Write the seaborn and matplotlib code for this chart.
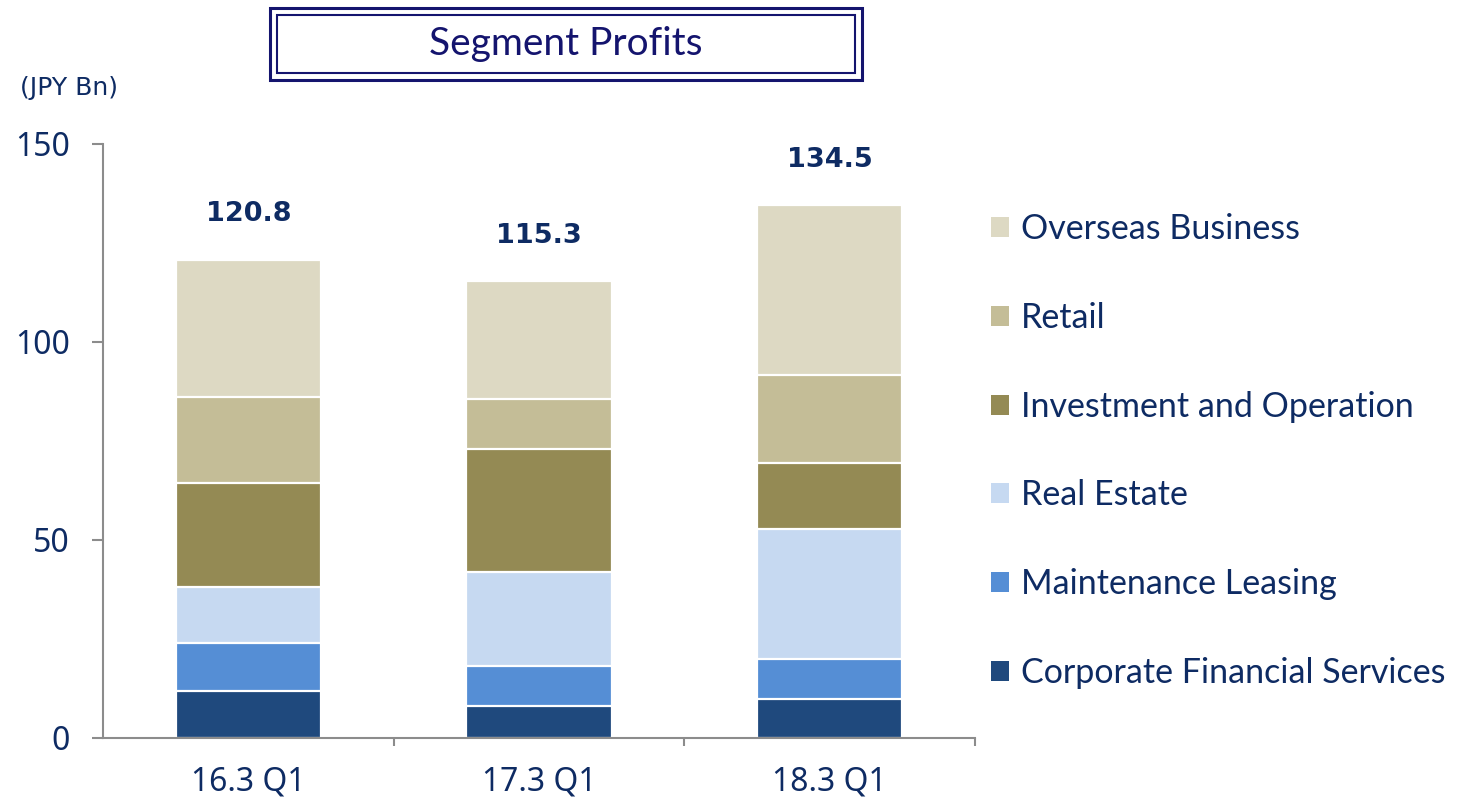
import matplotlib
matplotlib.use('Agg')
import matplotlib.pyplot as plt
import seaborn as sns
import pandas as pd
import numpy as np
from matplotlib.patches import Rectangle
from matplotlib.ticker import FixedLocator

# ---------------- data ----------------
periods = ['16.3 Q1', '17.3 Q1', '18.3 Q1']
segments = ['Corporate Financial Services', 'Maintenance Leasing', 'Real Estate',
            'Investment and Operation', 'Retail', 'Overseas Business']
corporate_financial = [11.8, 8.0, 9.9]
maintenance_leasing = [12.2, 10.2, 10.1]
real_estate = [14.1, 23.6, 32.9]
investment_operation = [26.3, 31.2, 16.6]
retail = [21.7, 12.6, 22.2]
overseas = [34.7, 29.7, 42.8]
totals = [120.8, 115.3, 134.5]
y_ticks = [0, 50, 100, 150]
title_text = 'Segment Profits'
unit_text = '(JPY Bn)'

palette = {
    'Corporate Financial Services': '#1F497D',
    'Maintenance Leasing': '#558ED5',
    'Real Estate': '#C6D9F1',
    'Investment and Operation': '#948A54',
    'Retail': '#C4BD97',
    'Overseas Business': '#DDD9C3',
}

# cumulative table for stacked drawing
series = [corporate_financial, maintenance_leasing, real_estate,
          investment_operation, retail, overseas]
cum = np.cumsum(np.array(series), axis=0)
rows = []
for si, seg in enumerate(segments):
    for pi, per in enumerate(periods):
        rows.append({'period': per, 'segment': seg, 'cum': cum[si, pi]})
df = pd.DataFrame(rows)

# ---------------- style ----------------
sns.set_theme(style='white')
plt.rcParams['font.family'] = ['DejaVu Sans']
navy = '#0E2B63'
gray = '#8C8C8C'

W, H = 1462, 798
fig = plt.figure(figsize=(W / 100, H / 100), dpi=100)
ax = fig.add_axes([103 / W, 1 - 738 / H, (975 - 103) / W, (738 - 144) / H])

sns.barplot(data=df, x='period', y='cum', hue='segment', hue_order=segments[::-1],
            order=periods, palette=palette, dodge=False, width=0.5, saturation=1,
            edgecolor='white', linewidth=1.6, errorbar=None, ax=ax)

ax.set_xlim(-0.5, len(periods) - 0.5)
ax.set_ylim(0, 150)
ax.set_yticks(y_ticks)
ax.set_xlabel('')
ax.set_ylabel('')

for s in ['top', 'right']:
    ax.spines[s].set_visible(False)
for s in ['left', 'bottom']:
    ax.spines[s].set_color(gray)
    ax.spines[s].set_linewidth(1.5)

ax.tick_params(axis='y', direction='out', length=8, width=1.5, color=gray,
               labelcolor=navy, pad=16, left=True)
ax.tick_params(axis='x', which='major', length=0, labelcolor=navy, pad=20)
ax.xaxis.set_minor_locator(FixedLocator([0.5, 1.5, 2.5]))
ax.tick_params(axis='x', which='minor', direction='out', length=6, width=1.5,
               color=gray, bottom=True)
for lab in ax.get_yticklabels() + ax.get_xticklabels():
    lab.set_family('Noto Sans')
    lab.set_fontsize(23)

# totals above bars
for i, t in enumerate(totals):
    ax.annotate(f'{t:.1f}', xy=(i, t), xytext=(0, 33), textcoords='offset points',
                ha='center', va='center', fontsize=19.5, fontweight='bold', color=navy)

# legend
handles, labels = ax.get_legend_handles_labels()
ax.get_legend().remove()
leg = fig.legend(handles, labels, loc='upper left',
                 bbox_to_anchor=(991 / W, 1 - 213 / H), frameon=False,
                 prop={'family': 'Lato', 'size': 24.5}, labelcolor=navy,
                 handlelength=0.53, handleheight=0.53, handletextpad=0.36,
                 labelspacing=1.67, borderpad=0, borderaxespad=0)
for h in leg.legend_handles:
    h.set_edgecolor('none')

# title box (double border)
fig.add_artist(Rectangle((270 / W, 1 - 80 / H), (862 - 270) / W, (80 - 8) / H,
                         transform=fig.transFigure, fill=False,
                         edgecolor='#14146E', linewidth=2.2))
fig.add_artist(Rectangle((277 / W, 1 - 73 / H), (855 - 277) / W, (73 - 15) / H,
                         transform=fig.transFigure, fill=False,
                         edgecolor='#14146E', linewidth=1.5))
fig.text(566 / W, 1 - 44 / H, title_text, ha='center', va='center',
         fontsize=28, family='Lato', color='#14146E')

fig.text(20 / W, 1 - 88 / H, unit_text, ha='left', va='center',
         fontsize=18, color=navy)

fig.savefig('out.png', dpi=100)
